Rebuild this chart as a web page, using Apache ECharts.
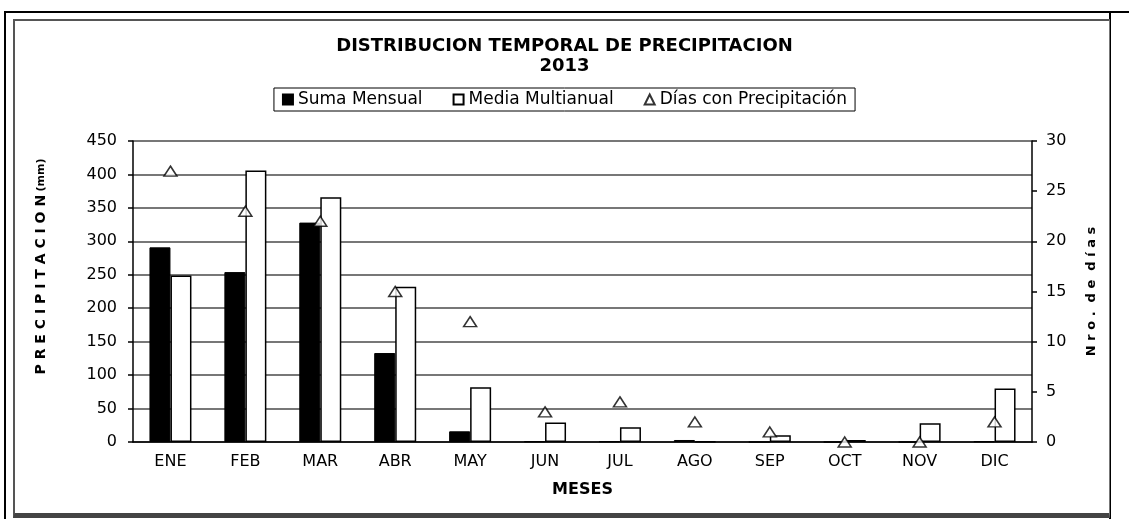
<!DOCTYPE html>
<html>
<head>
<meta charset="utf-8">
<script src="https://cdn.jsdelivr.net/npm/echarts@6/dist/echarts.min.js"></script>
<style>
  html, body { margin: 0; padding: 0; background: #fff; }
  .line { position: absolute; background: #000; }
  #inner {
    position: absolute; left: 13px; top: 19px; width: 1094px; height: 492px;
    border-left: 2px solid #555; border-top: 2px solid #555;
    border-right: 1px solid #777; border-bottom: 5px solid #444;
  }
  #chart { position: absolute; left: 0; top: 0; width: 1129px; height: 519px; }
</style>
</head>
<body>
<div class="line" style="left:4px;top:11px;width:1125px;height:2px"></div>
<div class="line" style="left:4px;top:11px;width:2px;height:508px"></div>
<div class="line" style="left:1109px;top:11px;width:2px;height:508px"></div>
<div id="inner"></div>
<div id="chart"></div>
<script>
// meses y valores
const meses = ['ENE', 'FEB', 'MAR', 'ABR', 'MAY', 'JUN', 'JUL', 'AGO', 'SEP', 'OCT', 'NOV', 'DIC'];
const sumaMensual = [291, 254, 328, 133, 16, 1, 1, 3, 0, 0, 0, 1];
const mediaMultianual = [249, 406, 366, 232, 82, 29, 22, 1, 10, 3, 28, 80];
const diasPrecipitacion = [27, 23, 22, 15, 12, 3, 4, 2, 1, 0, 0, 2];

// escalas de los ejes
const precipMax = 450, precipStep = 50;
const diasMax = 30, diasStep = 5;

const font = 'DejaVu Sans';

const chart = echarts.init(document.getElementById('chart'), null, { renderer: 'canvas' });

const option = {
  animation: false,
  backgroundColor: 'transparent',
  title: {
    text: 'DISTRIBUCION TEMPORAL DE PRECIPITACION\n2013',
    left: 'center',
    top: 31,
    textStyle: {
      fontFamily: font,
      fontSize: 18,
      fontWeight: 'bold',
      color: '#000',
      lineHeight: 20,
    },
  },
  legend: {
    top: 88,
    left: 'center',
    padding: [3, 8],
    itemGap: 30,
    itemWidth: 10,
    itemHeight: 10,
    borderColor: '#000',
    borderWidth: 1,
    textStyle: { fontFamily: font, fontSize: 17, color: '#000' },
    data: [
      { name: 'Suma Mensual', icon: 'rect' },
      { name: 'Media Multianual', icon: 'rect' },
      { name: 'Días con Precipitación', icon: 'triangle' },
    ],
  },
  grid: { left: 133, right: 97, top: 141, bottom: 77 },
  xAxis: {
    type: 'category',
    data: meses,
    name: 'MESES',
    nameLocation: 'middle',
    nameGap: 40,
    nameTextStyle: { fontFamily: font, fontSize: 16, fontWeight: 'bold', color: '#000' },
    axisLine: { lineStyle: { color: '#000', width: 1.5 } },
    axisTick: { length: 5, lineStyle: { color: '#000', width: 1.5 } },
    axisLabel: { interval: 0, margin: 12, fontFamily: font, fontSize: 16, color: '#000' },
  },
  yAxis: [
    {
      type: 'value',
      min: 0,
      max: precipMax,
      interval: precipStep,
      name: '{a|P R E C I P I T A C I O N} {b|(mm)}',
      nameLocation: 'middle',
      nameRotate: 90,
      nameGap: 85,
      nameTextStyle: {
        padding: [0, 0, 0, 50],
        rich: {
          a: { fontFamily: font, fontSize: 14, fontWeight: 'bold', color: '#000' },
          b: { fontFamily: font, fontSize: 11, fontWeight: 'bold', color: '#000' },
        },
      },
      axisLine: { show: true, lineStyle: { color: '#000', width: 1.5 } },
      axisTick: { show: true, length: 5, lineStyle: { color: '#000', width: 1.5 } },
      axisLabel: { margin: 16, fontFamily: font, fontSize: 16, color: '#000' },
      splitLine: { show: true, lineStyle: { color: '#4a4a4a', width: 1.5 } },
    },
    {
      type: 'value',
      min: 0,
      max: diasMax,
      interval: diasStep,
      position: 'right',
      name: 'N r o .  d e  d í a s',
      nameLocation: 'middle',
      nameRotate: 90,
      nameGap: 53,
      nameTextStyle: { fontFamily: font, fontSize: 13, fontWeight: 'bold', color: '#000' },
      axisLine: { show: true, lineStyle: { color: '#000', width: 1.5 } },
      axisTick: { show: true, length: 5, lineStyle: { color: '#000', width: 1.5 } },
      axisLabel: { margin: 14, fontFamily: font, fontSize: 16, color: '#000' },
      splitLine: { show: false },
    },
  ],
  series: [
    {
      name: 'Suma Mensual',
      type: 'bar',
      data: sumaMensual,
      barWidth: 21,
      barGap: '0%',
      itemStyle: { color: '#000', borderColor: '#000', borderWidth: 1 },
    },
    {
      name: 'Media Multianual',
      type: 'bar',
      data: mediaMultianual,
      barWidth: 21,
      itemStyle: { color: '#fff', borderColor: '#000', borderWidth: 1.5 },
    },
    {
      name: 'Días con Precipitación',
      type: 'scatter',
      yAxisIndex: 1,
      data: diasPrecipitacion,
      symbol: 'triangle',
      symbolSize: [13, 10],
      z: 5,
      itemStyle: { color: '#fff', borderColor: '#000', borderWidth: 1.5 },
    },
  ],
};

chart.setOption(option);
</script>
</body>
</html>
